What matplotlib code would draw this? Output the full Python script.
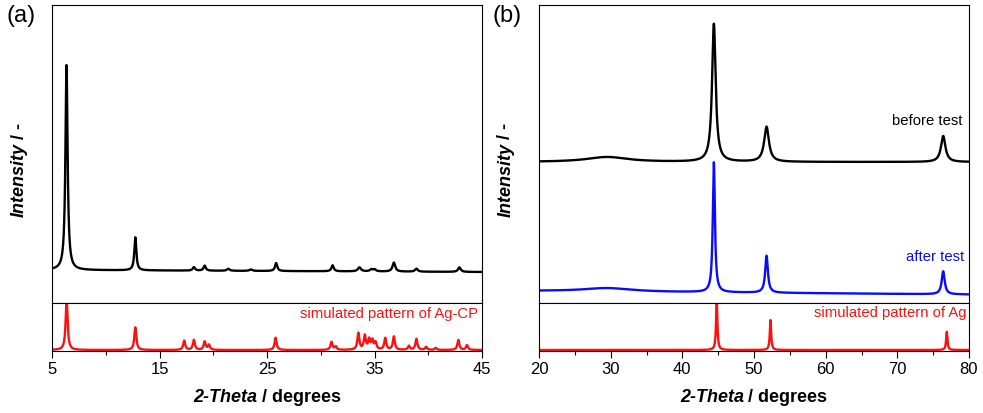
import numpy as np
import matplotlib
matplotlib.use("Agg")
import matplotlib.pyplot as plt
from matplotlib.ticker import MultipleLocator

plt.rcParams['font.family'] = ['Liberation Sans', 'DejaVu Sans']

a_pos = [6.35, 12.75, 18.2, 19.2, 21.4, 23.5, 25.85, 31.1, 33.6, 34.7, 35.0, 36.8, 38.9, 42.9]
a_hgt = [205, 33, 3.5, 5, 2, 1.5, 8, 6, 4, 2, 2, 9, 3, 4.5]
a_fwhm = [0.24, 0.22, 0.25, 0.25, 0.3, 0.3, 0.25, 0.25, 0.35, 0.3, 0.3, 0.3, 0.3, 0.3]
a_base = [1.0, -1.0]          # background at 5 and 45 deg

# simulated Ag-CP
as_pos = [6.36, 12.75, 17.3, 18.2, 19.2, 19.6, 25.8, 31.0, 31.4, 33.5, 34.1, 34.5, 34.8, 35.1,
          36.0, 36.8, 38.2, 38.9, 39.8, 40.7, 42.8, 43.6]
as_hgt = [50, 22.7, 9.3, 10, 8.3, 5, 12.3, 8, 3.3, 16.7, 14, 10, 9, 7,
          11.7, 13.3, 4, 11, 3, 2, 10, 4.7]
as_fwhm = 0.22

# ---- panel (b): Ag before / after test, simulated Ag
b_pos = [29.5, 44.4, 51.75, 76.4]
before_hgt = [5, 138, 35, 26]
before_fwhm = [7.0, 0.6, 0.8, 0.75]
before_base = [141, 141]      # at 20 and 80 deg

after_hgt = [3.5, 130, 37, 23]
after_fwhm = [8.0, 0.35, 0.45, 0.5]
after_base = [12, 8.5]

bs_pos = [44.8, 52.3, 76.9]
bs_hgt = [50, 30, 18.3]
bs_fwhm = 0.22


def pattern(x, pos, hgt, fwhm, base=(0, 0)):
    y = np.interp(x, [x[0], x[-1]], base)
    fwhm = np.broadcast_to(fwhm, len(pos))
    for p, h, w in zip(pos, hgt, fwhm):
        y = y + h / (1 + ((x - p) / (w / 2)) ** 2)
    return y


W, H = 983, 413
fig = plt.figure(figsize=(W / 100, H / 100), dpi=100)
renderer = fig.canvas.get_renderer()


def mixed_label(cx, cy, parts, rotation=0):
    # parts: list of (text, style); laid out one after the other, centred on (cx, cy) pixels
    texts = []
    for s, st in parts:
        t = fig.text(0, 0, s, fontsize=13, fontweight='bold', style=st,
                     rotation=rotation, ha='left', va='center', transform=None)
        texts.append(t)
    sizes = [t.get_window_extent(renderer) for t in texts]
    gap = 4
    if rotation == 0:
        total = sum(b.width for b in sizes) + gap * (len(sizes) - 1)
        pos = cx - total / 2
        for t, b in zip(texts, sizes):
            t.set_position((pos, cy))
            pos += b.width + gap
    else:
        total = sum(b.height for b in sizes) + gap * (len(sizes) - 1)
        pos = cy - total / 2
        for t, b in zip(texts, sizes):
            t.set_ha('center')
            t.set_va('bottom')
            t.set_position((cx, pos))
            pos += b.height + gap


def panel(left, xlim, major, minor, label):
    l = left / W
    w = 430 / W
    top = fig.add_axes([l, 1 - 303 / H, w, 298 / H])
    bot = fig.add_axes([l, 1 - 351 / H, w, 48 / H], sharex=top)
    for ax in (top, bot):
        ax.set_xlim(*xlim)
        ax.set_yticks([])
        for s in ax.spines.values():
            s.set_linewidth(0.8)
    top.tick_params(axis='x', which='both', bottom=False, labelbottom=False)
    bot.xaxis.set_major_locator(MultipleLocator(major))
    bot.xaxis.set_minor_locator(MultipleLocator(minor))
    bot.tick_params(axis='x', which='major', direction='out', length=5, width=0.8,
                    labelsize=12, pad=3)
    bot.tick_params(axis='x', which='minor', direction='out', length=3, width=0.8)
    bot.set_xticks(np.arange(xlim[0], xlim[1] + 1, major))
    mixed_label(left + 215, H - 397, [('2-Theta', 'italic'), ('/ degrees', 'normal')])
    mixed_label(left - 33, H - 170, [('Intensity', 'italic'), ('/ -', 'normal')], rotation=90)
    fig.text((left - 46) / W, 1 - 16 / H, label, fontsize=17, ha='left', va='center')
    return top, bot


# (a)
top, bot = panel(52, (5, 45), 10, 5, '(a)')
x = np.linspace(5, 45, 4000)
top.plot(x, pattern(x, a_pos, a_hgt, a_fwhm, a_base), color='black', lw=1.7)
top.set_ylim(-32, 266)
bot.plot(x, pattern(x, as_pos, as_hgt, as_fwhm), color='#ff1010', lw=1.7)
bot.set_ylim(-1, 47)
bot.text(0.99, 0.77, 'simulated pattern of Ag-CP', transform=bot.transAxes,
         color='#ff1010', fontsize=10.7, ha='right', va='center')

# (b)
top, bot = panel(539, (20, 80), 10, 5, '(b)')
x = np.linspace(20, 80, 6000)
top.plot(x, pattern(x, b_pos, before_hgt, before_fwhm, before_base), color='black', lw=1.7)
top.plot(x, pattern(x, b_pos, after_hgt, after_fwhm, after_base), color='#0a0aff', lw=1.7)
top.set_ylim(0, 298)
top.text(0.985, (303 - 121) / 298, 'before test', transform=top.transAxes,
         color='black', fontsize=10.7, ha='right', va='center')
top.text(0.99, (303 - 257) / 298, 'after test', transform=top.transAxes,
         color='#0a0aff', fontsize=10.7, ha='right', va='center')
bot.plot(x, pattern(x, bs_pos, bs_hgt, bs_fwhm), color='#ff1010', lw=1.7)
bot.set_ylim(-1, 47)
bot.text(0.995, 0.79, 'simulated pattern of Ag', transform=bot.transAxes,
         color='#ff1010', fontsize=10.7, ha='right', va='center')

fig.savefig('out.png', dpi=100)
